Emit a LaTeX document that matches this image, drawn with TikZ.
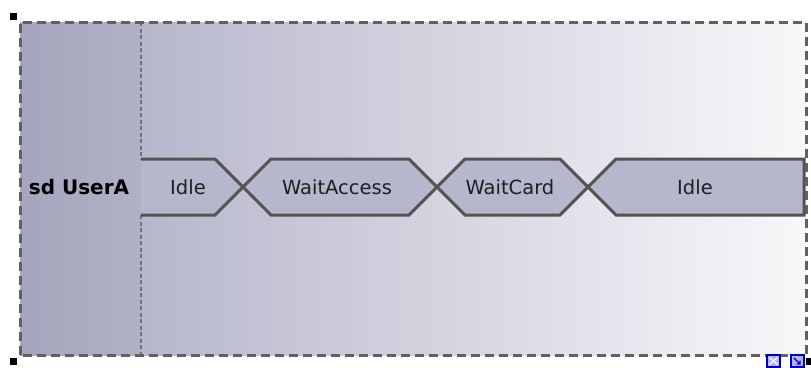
\documentclass[tikz,border=0pt]{standalone}
\usepackage{fontspec}
\setmainfont{DejaVu Sans}
\begin{document}
\begin{tikzpicture}[x=1pt,y=-1pt,
  framestyle/.style={draw=black!62, line width=3pt, dash pattern=on 9pt off 5pt},
  dividerstyle/.style={draw=black!55, line width=1.6pt, dash pattern=on 4pt off 2.5pt},
  lanestyle/.style={draw=black!67, line width=3pt, line join=miter},
  lanefill/.style={fill=lanecol},
  statelabel/.style={font=\fontsize{19.5}{22}\selectfont, text=black!88, inner sep=0pt},
  namelabel/.style={font=\fontsize{20}{22}\selectfont\bfseries, text=black, inner sep=0pt},
  handle/.style={fill=black, draw=none},
  iconstyle/.style={draw=blue!75!black, fill=blue!30, line width=1.5pt}
]
\definecolor{lanecol}{HTML}{B6B6CD}
\definecolor{leftA}{HTML}{A5A5BD}
\definecolor{leftB}{HTML}{B0B0C7}
\definecolor{mainA}{HTML}{B7B7CC}
\definecolor{mainB}{HTML}{F8F8FA}
\useasboundingbox (0,0) rectangle (811,367);
% background shading
\shade[left color=mainA, right color=mainB] (141,22) rectangle (806,355);
\shade[left color=leftA, right color=leftB] (20,22) rectangle (141,355);
% divider
\draw[dividerstyle] (141,22) -- (141,159);
\draw[dividerstyle] (141,215) -- (141,355);
% lane shapes
\fill[lanefill] (141,159) -- (215,159) -- (243,187) -- (215,215) -- (141,215) -- cycle;
\draw[lanestyle] (141,159) -- (215,159) -- (243,187) -- (215,215) -- (141,215);
\filldraw[lanefill, lanestyle] (243,187) -- (271,159) -- (409,159) -- (437,187) -- (409,215) -- (271,215) -- cycle;
\filldraw[lanefill, lanestyle] (437,187) -- (465,159) -- (560,159) -- (588,187) -- (560,215) -- (465,215) -- cycle;
\filldraw[lanefill, lanestyle] (588,187) -- (616,159) -- (804,159) -- (804,215) -- (616,215) -- cycle;
% labels
\node[namelabel] (name) at (79,187) {sd UserA};
\node[statelabel] (idleA) at (188,187) {Idle};
\node[statelabel] (waitaccess) at (337,187) {WaitAccess};
\node[statelabel] (waitcard) at (510,187) {WaitCard};
\node[statelabel] (idleB) at (695,187) {Idle};
% frame
\draw[framestyle] (20,355) -- (20,22) -- (806,22) -- (806,355) -- (20,355);
% handles
\fill[handle] (9.5,12.5) rectangle (16.5,19.5);
\fill[handle] (9.5,357.5) rectangle (16.5,364.5);
\fill[handle] (806,358) rectangle (811,365);
% icons
\draw[iconstyle] (767,355) rectangle (780,367);
\draw[white, line width=1.2pt] (769.5,357.5) -- (777.5,364.5) (777.5,357.5) -- (769.5,364.5);
\draw[iconstyle] (791,355) rectangle (804,367);
\draw[blue!75!black, line width=1.2pt] (794,358) -- (800,364) (800,360.5) -- (800,364) -- (796.5,364);
\end{tikzpicture}
\end{document}
